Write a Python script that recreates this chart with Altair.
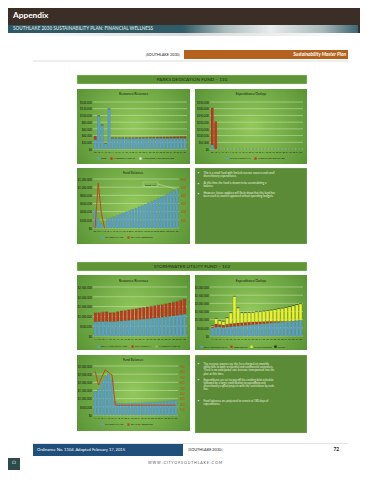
import altair as alt
import pandas as pd

# ---------------- data ----------------
parks_years = [str(y) for y in range(2009, 2036)]
parks_fees = [28000, 98000, 71000, 17000, 119000, 32000, 32000, 32000, 32000, 32000, 32000, 32000, 32000, 32000,
              32000, 32000, 32000, 32000, 32000, 32000, 32000, 32000, 32000, 32000, 32000, 32000, 32000]
parks_interest = [10000, 1500, 1000, 500, 1000, 1500, 1500, 1500, 1500, 1500, 1500, 1500, 1800, 2000,
                  2200, 2400, 2600, 2800, 3000, 3200, 3400, 3600, 3800, 4000, 4200, 4400, 4600]
parks_other = [0] * 27
parks_capital = [30000, 0, 0, 0, 0, 0, 0, 0, 0, 0, 0, 0, 0, 0, 0, 0, 0, 0, 0, 0, 0, 0, 0, 0, 0, 0, 0]
parks_xfer = [277000, 205000, 0, 0, 0, 0, 0, 0, 0, 0, 0, 0, 0, 0, 0, 0, 0, 0, 0, 0, 0, 0, 0, 0, 0, 0, 0]
parks_balance = [446000, 219000, 100000, 5000, 222000, 250000, 280000, 310000, 340000, 370000, 400000, 430000,
                 460000, 490000, 520000, 550000, 580000, 615000, 650000, 685000, 720000, 755000, 790000,
                 830000, 870000, 910000, 950000]
parks_days = [0, 550, 180, 0]
parks_note = "$898,477"

storm_years = [str(y) for y in range(2011, 2036)]
storm_fees = [730000, 740000, 740000, 750000, 740000, 740000, 760000, 770000, 790000, 800000, 820000, 830000,
              850000, 860000, 880000, 900000, 920000, 940000, 960000, 980000, 1000000, 1030000, 1060000,
              1090000, 1120000]
storm_transfers = [455000, 445000, 475000, 485000, 445000, 455000, 485000, 505000, 515000, 535000, 545000,
                   565000, 575000, 595000, 605000, 615000, 625000, 635000, 645000, 665000, 685000, 695000,
                   705000, 735000, 765000]
storm_interest = [15000] * 25
storm_ops = [510000, 540000, 560000, 520000, 560000, 580000, 600000, 620000, 640000, 660000, 680000, 700000,
             720000, 740000, 760000, 780000, 800000, 820000, 840000, 860000, 880000, 900000, 920000, 940000,
             960000]
storm_debt = [60000, 200000, 150000, 150000, 160000, 180000, 180000, 180000, 180000, 180000, 170000, 160000,
              150000, 140000, 130000, 120000, 100000, 80000, 60000, 40000, 20000, 0, 0, 0, 0]
storm_capital = [60000, 320000, 230000, 230000, 380000, 650000, 1650000, 910000, 590000, 570000, 580000,
                 590000, 600000, 610000, 630000, 650000, 680000, 720000, 760000, 800000, 840000, 880000,
                 920000, 960000, 1000000]
storm_other = [20000] * 25
storm_balance = [1430000, 1570000, 2040000, 2350000, 2500000, 2140000, 820000, 720000, 720000, 710000,
                 720000, 730000, 740000, 740000, 750000, 760000, 770000, 780000, 790000, 800000, 820000,
                 840000, 860000, 880000, 900000]
storm_days = [800, 550, 700, 830, 780, 735, 180, 180, 180, 180, 180, 180, 180, 180, 180, 180, 180, 180,
              180, 180, 180, 180, 180, 180, 180]

parks_text = [
    "This is a small fund with limited revenue sources and small\ndiscretionary expenditures.",
    "At this time the fund is shown to be accumulating a\nbalance.",
    "However, future updates will likely show that this fund has\nbeen used as council approved annual operating budgets.",
]
storm_text = [
    "The revenue sources are the fees charged on monthly\nutility bills to both residential and commercial customers.\n"
    "There is no anticipated rate increase incorporated into the\nplan at this time.",
    "Expenditures are set to pay off the existing debt schedule\nfollowed by a larger contribution to operations and\n"
    "discretionary capital projects with the restrictions by code\nline.",
    "Fund balances are projected to remain at 180 days of\nexpenditures.",
]

# ---------------- style ----------------
FONT = "Lato"
BLUE = "#5b9fd3"
RED = "#c8321e"
YEL = "#eef02a"
BLK = "#1b1b1b"
LRED = "#c4471c"
LIGHT = "#e4ecd6"
GRN3 = "#9bbb59"
GRID = "#d3e6bb"
PANEL = {"gradient": "radial", "r2": 0.75,
         "stops": [{"offset": 0, "color": "#93c95b"}, {"offset": 1, "color": "#4b862c"}]}
TEXTBOX = "#5b8b37"
one = pd.DataFrame({"k": [0]})


def rect(x, x2, y, y2, fill, **kw):
    return alt.Chart(one).mark_rect(fill=fill, **kw).encode(
        x=alt.value(x), x2=alt.value(x2), y=alt.value(y), y2=alt.value(y2))


def text(x, y, s, **kw):
    return alt.Chart(one).mark_text(**kw).encode(x=alt.value(x), y=alt.value(y), text=alt.value(s))


def hline(x, x2, y, color, w=0.6):
    return alt.Chart(one).mark_rule(color=color, strokeWidth=w).encode(
        x=alt.value(x), x2=alt.value(x2), y=alt.value(y))


def xaxis():
    return alt.Axis(title=None, labelExpr="slice(datum.label, 2)", labelAngle=0, labelFontSize=2.2,
                    ticks=False, domain=False, grid=False, labelPadding=1.5, zindex=1,
                    labelOverlap=False, labelColor="#1a1a1a")


def yaxis(vals, fmt, orient="left", color="#1a1a1a"):
    return alt.Axis(values=vals, format=fmt, labelFontSize=2.8, ticks=False, domain=False, grid=False,
                    title=None, labelPadding=1.5, zindex=1, labelColor=color, orient=orient)


def leg(x, y, fs=2.4, pad=3):
    return alt.Legend(orient="none", legendX=x, legendY=y, direction="horizontal", title=None,
                      labelFontSize=fs, symbolSize=5, symbolType="square", columnPadding=pad,
                      labelOffset=1, padding=0, labelLimit=200, symbolStrokeWidth=0, labelColor="#1a1a1a")


def grid_layer(ticks, dom, fmt="$,.0f"):
    return alt.Chart(pd.DataFrame({"t": ticks})).mark_rule(color=GRID, strokeWidth=0.5).encode(
        y=alt.Y("t:Q", scale=alt.Scale(domain=dom, nice=False), axis=yaxis(ticks, fmt)))


def stacked(years, names, series, colors, dom, ticks, w, h, spacer, panel, title, tpos, lpos):
    recs = []
    for k, (nm, vals) in enumerate(zip(names, series)):
        for yr, v in zip(years, vals):
            recs.append({"year": yr, "series": nm, "value": v, "k": k})
    df = pd.DataFrame(recs)
    bars = alt.Chart(df).mark_bar(stroke="#1d3b52", strokeWidth=0.15, strokeOpacity=0.6).encode(
        x=alt.X("year:O", sort=years, scale=alt.Scale(paddingInner=0.28, paddingOuter=0.3), axis=xaxis()),
        y=alt.Y("value:Q", stack="zero", scale=alt.Scale(domain=dom, nice=False), axis=yaxis(ticks, "$,.0f")),
        color=alt.Color("series:N", sort=names, scale=alt.Scale(domain=names, range=colors), legend=leg(*lpos)),
        order=alt.Order("k:Q", sort="ascending"),
    )
    return alt.layer(
        rect(*spacer, fill="white"), rect(*panel, fill=PANEL), grid_layer(ticks, dom), bars,
        text(tpos[0], tpos[1], title, fontSize=3.2, color="#1a1a1a"),
    ).properties(width=w, height=h)


def fund(years, bal, days, dom, ticks, rdom, rticks, w, h, spacer, panel, tpos, lpos, note=None):
    cs = alt.Scale(domain=["FUND BALANCE", "DAYS OF RESERVES"], range=[BLUE, LRED])
    bdf = pd.DataFrame({"year": years, "value": bal, "series": "FUND BALANCE"})
    ldf = pd.DataFrame({"year": years[:len(days)], "days": days, "series": "DAYS OF RESERVES"})
    xe = alt.X("year:O", sort=years, scale=alt.Scale(paddingInner=0.28, paddingOuter=0.3), axis=xaxis())
    grid = alt.Chart(pd.DataFrame({"t": ticks})).mark_rule(color=GRID, strokeWidth=0.5).encode(
        y=alt.Y("t:Q", scale=alt.Scale(domain=dom, nice=False), axis=None))
    bars = alt.Chart(bdf).mark_bar(stroke="#1d3b52", strokeWidth=0.15, strokeOpacity=0.6).encode(
        x=xe,
        y=alt.Y("value:Q", scale=alt.Scale(domain=dom, nice=False), axis=yaxis(ticks, "$,.0f")),
        color=alt.Color("series:N", scale=cs, legend=leg(*lpos)),
    )
    line = alt.Chart(ldf).mark_line(strokeWidth=1).encode(
        x=alt.X("year:O", sort=years),
        y=alt.Y("days:Q", scale=alt.Scale(domain=rdom, nice=False),
                axis=yaxis(rticks, ",.0f", orient="right", color=LRED)),
        color=alt.Color("series:N", scale=cs, legend=leg(*lpos)),
    )
    layers = [rect(*spacer, fill="white"), rect(*panel, fill=PANEL), grid, bars, line,
              text(tpos[0], tpos[1], "Fund Balances", fontSize=3.2, color="#1a1a1a")]
    if note is not None:
        ndf = pd.DataFrame({"year": [years[-1]], "value": [bal[-1]], "label": [note]})
        layers.append(alt.Chart(ndf).mark_rule(color="#e8f0de", strokeWidth=0.4).encode(
            x=alt.X("year:O", sort=years),
            y=alt.Y("value:Q", scale=alt.Scale(domain=dom, nice=False), axis=None),
            x2=alt.value(65), y2=alt.value(5)))
        layers.append(rect(50, 65, 3, 7.5, fill="none", stroke="#e8f0de", strokeWidth=0.3))
        layers.append(alt.Chart(ndf).mark_text(fontSize=2.6, color="#1a1a1a").encode(
            x=alt.value(57.5), y=alt.value(5.3), text="label:N"))
    return alt.layer(*layers).resolve_scale(y="independent").properties(width=w, height=h)


def textpanel(w, h, spacer, panel, paras, tops):
    layers = [rect(*spacer, fill="white"), rect(*panel, fill=TEXTBOX, stroke="#c9d9b8", strokeWidth=0.3)]
    for s, t in zip(paras, tops):
        layers.append(text(3.5, t + 1.4, "\u2022", fontSize=3.2, color="#e6eedc"))
        layers.append(alt.Chart(one).mark_text(align="left", baseline="top", lineBreak="\n", lineHeight=3.2,
                                               fontSize=2.8, color="#e6eedc").encode(
            x=alt.value(8.5), y=alt.value(t), text=alt.value(s)))
    return alt.layer(*layers).properties(width=w, height=h)


def header(label, top, bottom, h):
    return alt.layer(
        rect(-85, 267, 0, h, fill="white"),
        rect(-16, 214, top, bottom, fill="#5f9437", stroke="#d0e0c0", strokeWidth=0.4),
        text(99, (top + bottom) / 2, label, fontSize=4.6, color="#1c2b12"),
    ).properties(width=214, height=h)


def pair(a, b):
    return alt.hconcat(a, b, spacing=0).resolve_scale(color="independent").resolve_legend(color="independent")


# ---------------- rows ----------------
strip = {"gradient": "linear", "x1": 0, "x2": 1, "y1": 0, "y2": 0,
         "stops": [{"offset": 0, "color": "#2c5963"}, {"offset": 0.5, "color": "#2f5c66"},
                   {"offset": 0.62, "color": "#a9bcbd"}, {"offset": 0.75, "color": "#e8ecec"},
                   {"offset": 0.9, "color": "#a8b8ba"}, {"offset": 1, "color": "#3d6670"}]}
row0 = alt.layer(
    rect(-85, 267, 0, 58, fill="white"),
    rect(-85, 267, 0, 25, fill="#3b2e26"),
    rect(-85, 265, 17, 25, fill=strip),
    rect(-85, 265, 25, 28, fill={"gradient": "linear", "x1": 0, "x2": 1, "y1": 0, "y2": 0,
                                 "stops": [{"offset": 0, "color": "#ffffff"}, {"offset": 0.5, "color": "#d9d9d9"},
                                           {"offset": 1, "color": "#ffffff"}]}),
    text(-80, 8, "Appendix", fontSize=8.3, fontWeight="bold", color="white", align="left"),
    text(-80, 21, "SOUTHLAKE 2030 SUSTAINABILITY PLAN: FINANCIAL WELLNESS", fontSize=4.6, fontWeight="bold",
         color="#c9d4d4", align="left"),
    text(87, 46.5, "[SOUTHLAKE 2030]", fontSize=3.8, color="#222", align="right"),
    rect(91, 255, 42, 51, fill="#b4611e"),
    text(253, 46.5, "Sustainability Master Plan", fontSize=4.8, fontWeight="bold", fontStyle="italic",
         color="white", align="right"),
    hline(-60, 255, 53, "#bbbbbb", 0.5),
).properties(width=267, height=58)

row1 = header("PARKS DEDICATION FUND \u2013 110", 9, 18, 21)

parks_rev = stacked(parks_years, ["FEES", "INTEREST INCOME", "MISC/FROM OTHER FUNDS"],
                    [parks_fees, parks_interest, parks_other], [BLUE, RED, LIGHT],
                    [0, 140000], [0, 20000, 40000, 60000, 80000, 100000, 120000, 140000],
                    94, 47, (-85, 97, -15, 64), (-16, 97, -13, 62), "Resources/Revenues", (40.5, -8), (4, 55))
parks_exp = stacked(parks_years, ["CAPITAL OUTLAYS", "XFER TO OTHER FUNDS"],
                    [parks_capital, parks_xfer], [BLUE, RED],
                    [0, 350000], [0, 50000, 100000, 150000, 200000, 250000, 300000, 350000],
                    93, 47, (-20, 150, -15, 64), (-15, 97, -13, 62), "Expenditures/Outlays", (41, -8), (16, 55))
row2 = pair(parks_rev, parks_exp)

parks_fb = fund(parks_years, parks_balance, parks_days, [0, 1200000],
                [0, 200000, 400000, 600000, 800000, 1000000, 1200000], [0, 600], [100, 200, 300, 400, 500, 600],
                86, 49, (-85, 97, -13, 79), (-16, 97, -11, 65), (40, -6), (8, 57), note=parks_note)
parks_tp = textpanel(112, 49, (-5, 165, -13, 79), (0, 112, -11, 65), parks_text, [-7.5, 3.2, 13.3])
row3 = pair(parks_fb, parks_tp)

row4 = header("STORMWATER UTILITY FUND \u2013 102", 4, 13, 15)

storm_rev = stacked(storm_years, ["DRAINAGE UTILITY FEE", "TRANSFERS IN", "INTEREST INCOME"],
                    [storm_fees, storm_transfers, storm_interest], [BLUE, RED, GRN3],
                    [0, 2500000], [0, 500000, 1000000, 1500000, 2000000, 2500000],
                    94, 49, (-85, 97, -14, 65), (-16, 97, -12, 63), "Resources/Revenues", (40.5, -6), (4, 58))
storm_exp = stacked(storm_years, ["DRAINAGE OPERATIONS", "DEBT SERVICE", "CAPITAL PROJECTS", "OTHER"],
                    [storm_ops, storm_debt, storm_capital, storm_other], [BLUE, RED, YEL, BLK],
                    [0, 3000000], [0, 500000, 1000000, 1500000, 2000000, 2500000, 3000000],
                    93, 49, (-20, 150, -14, 65), (-15, 97, -12, 63), "Expenditures/Outlays", (41, -6),
                    (-10, 58, 2.0, 2))
row5 = pair(storm_rev, storm_exp)

storm_fb = fund(storm_years, storm_balance, storm_days, [0, 3000000],
                [0, 500000, 1000000, 1500000, 2000000, 2500000, 3000000], [0, 900],
                [100, 200, 300, 400, 500, 600, 700, 800, 900],
                85, 49, (-85, 97, -14, 70), (-16, 97, -11, 65), (40, -6), (8, 57))
storm_tp = textpanel(112, 49, (-5, 165, -14, 70), (0, 112, -11, 67), storm_text, [-3, 12.5, 34])
row6 = pair(storm_fb, storm_tp)

row7 = alt.layer(
    rect(-85, 267, 0, 34, fill="white"),
    hline(-60, 255, 7.5, "#c8c8c8", 0.5),
    rect(-60, 90, 8, 20, fill="#1f4f7a"),
    text(-56, 14, "Ordinance No. 1104, Adopted February 17, 2015", fontSize=4.1, color="white", align="left"),
    text(95, 14, "[SOUTHLAKE 2030]", fontSize=3.8, color="#222", align="left"),
    text(246, 14, "72", fontSize=4.8, fontWeight="bold", color="#222", align="right"),
    text(92, 27, "W W W . C I T Y O F S O U T H L A K E . C O M", fontSize=3.6, color="#555"),
    rect(-85, -73, 22, 34, fill="#2d4b4b"),
    text(-79, 26, "\u2302", fontSize=5, color="white"),
).properties(width=214, height=34)

chart = alt.vconcat(row0, row1, row2, row3, row4, row5, row6, row7, spacing=0).resolve_scale(
    color="independent").resolve_legend(color="independent").properties(
    padding=0).configure(font=FONT).configure_view(stroke=None)

chart.save("out.html", embed_options={"renderer": "svg", "actions": False})
